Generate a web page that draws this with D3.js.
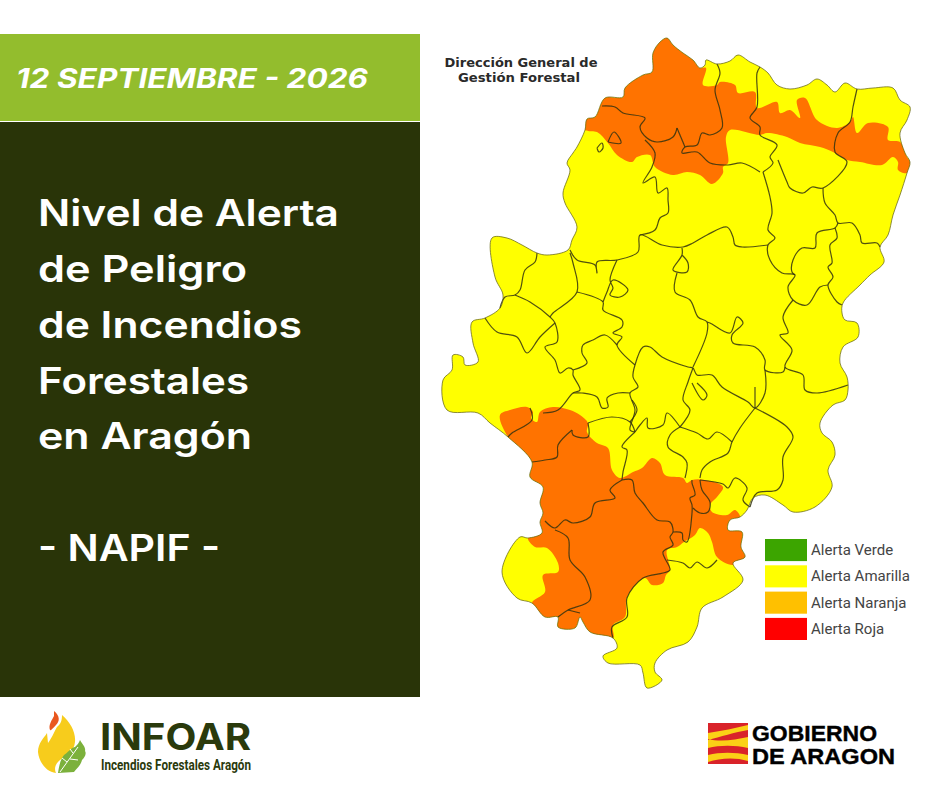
<!DOCTYPE html>
<html>
<head>
<meta charset="utf-8">
<script src="https://cdn.jsdelivr.net/npm/d3@7"></script>
<style>
  html, body { margin: 0; padding: 0; background: #fff; }
  svg { display: block; }
</style>
</head>
<body>
<script>
// Map outlines, in map units
const landOutline = [[667,38],[673,45],[683,53],[693,60],[700,68],[705,65],[706,60],[717,64],[730,61],[738,55],[750,62],[760,67],[768,73],[777,85],[790,89],[807,85],[817,79],[827,85],[835,92],[845,83],[857,89],[873,88],[893,88],[900,100],[910,107],[907,120],[900,133],[905,153],[910,162],[907,173],[900,195],[893,215],[888,235],[880,247],[884,262],[870,275],[860,285],[843,303],[842,313],[845,320],[857,323],[858,337],[843,347],[840,363],[847,377],[848,390],[845,400],[833,405],[820,423],[822,433],[832,442],[835,455],[828,470],[832,487],[815,507],[793,512],[783,505],[765,495],[753,498],[747,510],[740,517],[730,520],[728,530],[742,532],[741,547],[745,557],[733,563],[743,580],[723,597],[702,608],[697,627],[688,642],[667,650],[655,663],[655,672],[662,680],[647,688],[643,673],[640,665],[608,663],[603,656],[617,648],[613,638],[590,632],[583,622],[580,617],[575,628],[558,627],[558,617],[545,617],[532,603],[517,598],[502,572],[520,537],[528,538],[542,533],[540,522],[543,513],[540,503],[543,487],[530,477],[532,462],[508,437],[490,423],[478,413],[447,410],[443,380],[452,370],[453,355],[463,357],[465,365],[478,362],[473,343],[472,322],[485,318],[500,308],[503,295],[495,277],[492,238],[507,238],[522,245],[537,253],[547,255],[568,250],[572,240],[577,227],[565,203],[563,193],[570,170],[567,163],[573,153],[577,147],[585,130],[587,119],[595,117],[605,98],[623,97],[625,88],[643,75],[652,72],[653,53],[660,42]];

const orangeNorth = [[585,130],[587,119],[595,117],[605,98],[623,97],[625,88],[643,75],[652,72],[653,53],[660,42],[667,38],[673,45],[683,53],[693,60],[700,68],[706,68],[703,85],[717,85],[720,82],[735,85],[738,93],[755,92],[757,108],[777,102],[780,113],[790,110],[800,118],[797,100],[805,98],[817,120],[837,128],[850,122],[853,117],[857,133],[868,123],[888,127],[888,140],[900,142],[907,157],[910,162],[907,173],[898,170],[898,162],[893,157],[882,165],[860,162],[847,160],[833,152],[820,147],[800,143],[787,137],[767,133],[760,135],[730,130],[726,137],[728,163],[723,167],[723,173],[712,184],[700,175],[687,172],[673,175],[655,167],[650,155],[637,157],[632,162],[617,155],[608,143],[597,132]];

const orangeSouth = [[500,415],[510,410],[527,407],[533,412],[531,418],[537,422],[540,412],[553,407],[570,410],[580,415],[588,423],[587,432],[597,443],[608,448],[612,470],[620,478],[633,472],[642,468],[652,458],[660,463],[665,475],[683,478],[687,483],[692,480],[705,480],[723,487],[717,497],[710,505],[712,512],[727,515],[735,510],[740,517],[730,520],[728,530],[742,532],[741,547],[745,557],[733,565],[717,557],[712,542],[708,533],[700,528],[695,535],[684,542],[677,547],[667,550],[670,570],[666,575],[663,583],[652,585],[645,578],[627,597],[625,617],[613,625],[613,638],[590,632],[583,622],[580,617],[575,628],[558,627],[558,617],[545,617],[532,603],[545,592],[543,575],[558,572],[558,563],[547,548],[535,547],[528,538],[542,533],[540,522],[543,513],[540,503],[543,487],[530,477],[532,462],[508,437]];

// Comarca limits
const borderLines = [
  [[717,64],[720,73],[715,90],[720,110],[722,128],[710,135],[702,133],[697,145],[685,147],[682,153],[697,152],[710,163],[728,165],[742,163],[760,172]],
  [[677,128],[673,137],[657,142],[647,138],[640,127],[645,118],[623,113],[615,107],[602,106]],
  [[677,128],[685,147]],
  [[645,140],[655,153],[652,167],[643,183],[655,177],[658,193],[667,188],[668,200],[668,213],[660,218],[655,230],[640,235]],
  [[760,67],[757,73],[757,107],[750,118],[760,127],[760,135],[777,145],[770,157],[773,163],[763,172]],
  [[778,160],[787,182],[790,188],[803,193],[812,187],[823,188],[847,162],[835,152],[838,133],[850,122],[853,107],[857,89]],
  [[823,188],[825,203],[835,215],[838,223],[852,223],[860,235],[862,243],[877,243],[880,247]],
  [[763,172],[770,197],[772,213],[768,230],[775,238],[768,245],[770,260],[782,273],[795,275],[788,287],[793,300],[807,305],[820,287],[828,285]],
  [[838,223],[835,228],[817,233],[815,248],[802,248],[793,260],[792,272],[795,275]],
  [[835,228],[837,238],[830,245],[832,263],[828,267],[833,277],[828,285],[837,302],[842,305]],
  [[570,250],[577,260],[595,265],[597,273],[597,262],[617,260],[638,252],[640,235],[662,245],[683,247],[693,243],[707,235],[727,227],[733,237],[735,245],[742,247],[768,245]],
  [[793,300],[783,317],[788,333],[780,335],[792,350],[785,367],[803,375],[805,390],[817,393],[848,385]],
  [[785,367],[783,372],[765,370],[765,360],[755,347],[733,343],[732,335],[743,323],[737,317],[730,333],[710,323],[707,322]],
  [[682,248],[682,255],[673,270],[687,272],[688,263],[682,255]],
  [[677,273],[675,292],[690,300],[698,317],[707,322],[707,333],[693,367]],
  [[537,253],[535,262],[525,270],[520,290],[515,295],[505,297],[500,308]],
  [[515,295],[530,302],[550,317],[555,323],[557,342],[545,347],[555,360],[560,373],[568,368],[573,370],[573,375],[580,390],[573,393],[558,410],[543,413]],
  [[570,253],[573,263],[577,292],[553,313],[550,317]],
  [[577,292],[603,302],[603,310],[622,320],[622,327],[613,333],[622,337],[617,345],[635,365]],
  [[603,302],[607,292],[613,280],[628,290],[620,297],[610,295],[613,288],[610,280],[617,260]],
  [[573,370],[587,363],[582,353],[583,345],[593,340],[605,335],[617,345]],
  [[485,318],[497,332],[517,337],[527,353],[540,337],[555,323]],
  [[635,365],[643,347],[650,347],[662,357],[688,367],[693,368],[697,375],[712,375],[722,387],[748,402],[755,408],[765,393],[765,370]],
  [[755,408],[787,427],[793,437],[783,457],[783,480],[777,490],[757,493],[750,507]],
  [[755,408],[755,387]],
  [[755,408],[740,428],[732,442],[728,453],[710,462],[702,470],[700,478]],
  [[635,365],[633,377],[638,387],[630,393],[635,410],[630,430],[635,432]],
  [[630,393],[618,393],[607,398],[608,407],[602,408],[597,397],[582,393],[573,393]],
  [[693,368],[688,382],[683,400],[690,410],[680,427]],
  [[692,383],[703,400],[707,395],[697,383]],
  [[680,427],[670,435],[668,447],[683,457],[687,463],[685,478]],
  [[680,427],[697,433],[708,439],[717,432],[732,442]],
  [[635,432],[622,447],[627,450],[623,472],[622,480]],
  [[588,423],[612,417],[630,422],[635,432]],
  [[632,400],[637,410],[630,422]],
  [[635,432],[640,425],[647,418],[648,428],[663,425],[667,413],[680,427]],
  [[530,408],[532,420],[512,433],[508,437]],
  [[572,430],[573,435],[588,437],[588,423]],
  [[572,430],[558,445],[557,457],[545,460],[532,462]],
  [[622,480],[610,490],[615,498],[595,503],[590,517],[573,523],[565,520],[555,528],[545,521]],
  [[555,530],[568,538],[570,560],[585,577],[590,600],[568,610],[558,617]],
  [[568,610],[580,613]],
  [[622,480],[632,480],[635,493],[643,503],[657,520],[670,522],[673,532],[670,537],[673,545],[663,552],[670,570],[663,573],[643,578],[627,598],[627,617],[612,627],[613,638]],
  [[673,532],[682,533],[683,540],[687,542],[692,513],[692,505],[690,498],[695,495],[692,483],[692,480]],
  [[700,480],[702,490],[710,502],[708,512],[700,513],[693,508]],
  [[700,480],[723,484],[728,488],[735,478],[747,488],[743,500],[750,507]],
  [[667,560],[683,563],[690,568],[697,562],[707,568],[717,560]],
  [[608,142],[614,132],[621,143],[608,142]],
  [[597,148],[602,143],[603,148],[599,152],[597,148]]
];

// Texts and legend
const headerDate = "12 SEPTIEMBRE - 2026";
const titleLines = ["Nivel de Alerta", "de Peligro", "de Incendios", "Forestales", "en Aragón", "", "- NAPIF -"];
const titleWidths = [301, 209, 264, 211, 214, 0, 182];
const creditLines = ["Dirección General de", "Gestión Forestal"];
const creditWidths = [153, 122];
const legendLabels = ["Alerta Verde", "Alerta Amarilla", "Alerta Naranja", "Alerta Roja"];
const legendColors = ["#3ca500", "#ffff00", "#ffc000", "#ff0000"];

const mapYellow = "#ffff00";
const mapOrange = "#ff7300";

const svg = d3.select("body").append("svg").attr("width", 940).attr("height", 788);
svg.append("rect").attr("width", 940).attr("height", 788).attr("fill", "#fff");

// Left panel
svg.append("rect").attr("x", 0).attr("y", 34).attr("width", 420).attr("height", 87).attr("fill", "#93bd2d");
svg.append("rect").attr("x", 0).attr("y", 122).attr("width", 420).attr("height", 575).attr("fill", "#293408");

svg.append("text")
  .attr("x", 16).attr("y", 88)
  .attr("textLength", 352).attr("lengthAdjust", "spacingAndGlyphs")
  .attr("font-family", "Inter, Roboto, sans-serif")
  .attr("font-style", "italic").attr("font-weight", 700).attr("font-size", 27)
  .attr("fill", "#fff")
  .text(headerDate);

const titleY = d3.scaleLinear().domain([0, 6]).range([226, 561]);
svg.selectAll(".title")
  .data(titleLines)
  .enter()
  .filter((d) => d !== "")
  .append("text")
  .attr("class", "title")
  .attr("x", 38)
  .attr("y", (d) => titleY(titleLines.indexOf(d)))
  .attr("textLength", (d) => titleWidths[titleLines.indexOf(d)])
  .attr("lengthAdjust", "spacingAndGlyphs")
  .attr("font-family", "Inter, 'Open Sans', sans-serif")
  .attr("font-weight", 600).attr("font-size", 37)
  .attr("fill", "#fff")
  .text((d) => d);

// Map
const x = d3.scaleLinear().domain([440, 915]).range([440, 915]);
const y = d3.scaleLinear().domain([35, 690]).range([35, 690]);
const line = d3.line().x((d) => x(d[0])).y((d) => y(d[1])).curve(d3.curveCatmullRom.alpha(0.5));
const ring = d3.line().x((d) => x(d[0])).y((d) => y(d[1])).curve(d3.curveCatmullRomClosed.alpha(0.5));

const defs = svg.append("defs");
defs.append("clipPath").attr("id", "landClip")
  .append("path").attr("d", ring(landOutline));
// the source map is a scaled up bitmap, so its edges are a little soft
defs.append("filter").attr("id", "soft")
  .append("feGaussianBlur").attr("stdDeviation", 0.35);

const map = svg.append("g").attr("class", "map").attr("filter", "url(#soft)");

map.append("path").attr("d", ring(landOutline)).attr("fill", mapYellow);

const fills = map.append("g").attr("clip-path", "url(#landClip)");
fills.selectAll(".zone")
  .data([orangeNorth, orangeSouth])
  .enter()
  .append("path")
  .attr("class", "zone")
  .attr("d", ring)
  .attr("fill", mapOrange);

map.selectAll(".limit")
  .data(borderLines)
  .enter()
  .append("path")
  .attr("class", "limit")
  .attr("d", line)
  .attr("fill", "none")
  .attr("stroke", "#33330f")
  .attr("stroke-width", 1.2)
  .attr("stroke-linejoin", "round")
  .attr("opacity", 0.85);

map.append("path")
  .attr("d", ring(landOutline))
  .attr("fill", "none")
  .attr("stroke", "#66661a")
  .attr("stroke-width", 1)
  .attr("opacity", 0.75);

// Credit above the map
svg.selectAll(".credit")
  .data(creditLines)
  .enter()
  .append("text")
  .attr("class", "credit")
  .attr("x", (d, i) => 521 - creditWidths[i] / 2 + (i === 0 ? 0 : -2))
  .attr("y", (d, i) => 67 + i * 15)
  .attr("textLength", (d, i) => creditWidths[i])
  .attr("lengthAdjust", "spacingAndGlyphs")
  .attr("font-family", "'DejaVu Sans', sans-serif")
  .attr("font-weight", 700).attr("font-size", 12)
  .attr("fill", "#2a2a2a")
  .text((d) => d);

// Legend
const legendY = d3.scaleBand().domain(legendLabels).range([539, 640]).paddingInner(0.16).paddingOuter(0);
const legend = svg.selectAll(".legend")
  .data(legendLabels)
  .enter()
  .append("g")
  .attr("class", "legend")
  .attr("transform", (d) => `translate(765,${legendY(d)})`);
legend.append("rect")
  .attr("width", 42)
  .attr("height", legendY.bandwidth())
  .attr("fill", (d, i) => legendColors[i]);
legend.append("text")
  .attr("x", 46)
  .attr("y", legendY.bandwidth() / 2 + 5)
  .attr("font-family", "Roboto, sans-serif")
  .attr("font-size", 15)
  .attr("fill", "#444")
  .text((d) => d);

// INFOAR logo
const logo = svg.append("g").attr("class", "logo-infoar");
logo.append("path")
  .attr("d", "M62,715 C70,722 76,732 75,742 C74,752 66,755 60,760 C55,764 54,769 56,773 C46,772 39,762 38,752 C38,743 44,738 47,733 L48,743 C53,736 55,730 57,727 C61,724 62,720 62,715Z")
  .attr("fill", "#f7cc1c");
logo.append("path")
  .attr("d", "M54,711 C60,716 60,721 56,725 C53,728 51,731 50,730 C48,725 52,720 54,716Z")
  .attr("fill", "#e9571e");
logo.append("path")
  .attr("d", "M80,740 C82,744 86,747 85,751 C87,754 84,758 82,760 C81,765 77,768 74,772 L58,773 C59,767 60,760 64,755 C68,753 70,748 75,747 C77,745 79,743 80,740Z")
  .attr("fill", "#7cb13c");
logo.append("path")
  .attr("d", "M60,772 L78,747 M67,762 L62,758 M70,759 L78,760 M73,753 L70,749")
  .attr("fill", "none").attr("stroke", "#fff").attr("stroke-width", 1);
logo.append("text")
  .attr("x", 100).attr("y", 750)
  .attr("textLength", 151).attr("lengthAdjust", "spacingAndGlyphs")
  .attr("font-family", "Inter, sans-serif")
  .attr("font-weight", 700).attr("font-size", 37)
  .attr("fill", "#2a3a0c")
  .text("INFOAR");
logo.append("text")
  .attr("x", 101).attr("y", 770)
  .attr("textLength", 150).attr("lengthAdjust", "spacingAndGlyphs")
  .attr("font-family", "'Roboto', sans-serif")
  .attr("font-weight", 700).attr("font-size", 14)
  .attr("fill", "#2a3a0c")
  .text("Incendios Forestales Aragón");

// Gobierno de Aragon logo
const gob = svg.append("g").attr("class", "logo-gobierno");
gob.append("rect").attr("x", 708).attr("y", 723).attr("width", 40).attr("height", 41).attr("fill", "#fbd116");
const flagStripes = [
  "M708,723 L748,723 L748,725 C735,728 722,731 708,733Z",
  "M708,740 C720,737 735,732 748,730 L748,737 C735,740 720,742 708,739Z",
  "M708,748 C720,745 735,745 748,748 L748,755 C735,752 720,752 708,755Z",
  "M708,762 C720,758 735,757 748,761 L748,764 L708,764Z"
];
gob.selectAll(".stripe")
  .data(flagStripes)
  .enter()
  .append("path")
  .attr("class", "stripe")
  .attr("d", (d) => d)
  .attr("fill", "#d9232a");
gob.append("text")
  .attr("x", 752).attr("y", 741)
  .attr("textLength", 125).attr("lengthAdjust", "spacingAndGlyphs")
  .attr("font-family", "'Liberation Sans', sans-serif")
  .attr("font-weight", 700).attr("font-size", 22)
  .attr("stroke", "#000").attr("stroke-width", 0.4)
  .attr("fill", "#000")
  .text("GOBIERNO");
gob.append("text")
  .attr("x", 752).attr("y", 764)
  .attr("textLength", 143).attr("lengthAdjust", "spacingAndGlyphs")
  .attr("font-family", "'Liberation Sans', sans-serif")
  .attr("font-weight", 700).attr("font-size", 22)
  .attr("stroke", "#000").attr("stroke-width", 0.4)
  .attr("fill", "#000")
  .text("DE ARAGON");
</script>
</body>
</html>
